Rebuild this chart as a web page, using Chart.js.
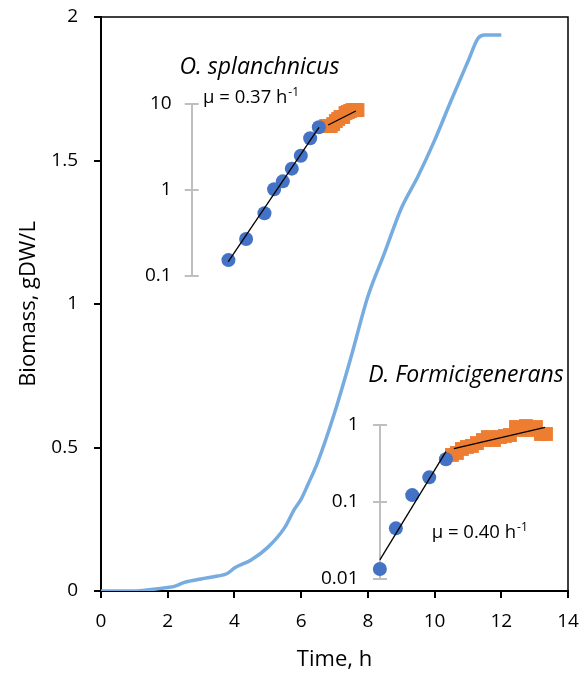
<!DOCTYPE html>
<html><head><meta charset="utf-8">
<script src="https://cdn.jsdelivr.net/npm/chart.js@4.4.0/dist/chart.umd.min.js"></script>
<style>
html,body{margin:0;padding:0;background:#fff;}
#wrap{position:relative;width:584px;height:676px;}
#wrap canvas{position:absolute;left:0;top:0;}
</style></head><body>
<div id="wrap">
<canvas id="main" width="584" height="676"></canvas>
<canvas id="inset1" width="584" height="676"></canvas>
<canvas id="inset2" width="584" height="676"></canvas>
</div>
<script>
// ---------- main growth curve ----------
const timeH   = [0,0.5,1,1.5,2,2.2,2.5,3,3.5,3.8,4,4.5,5,5.5,5.8,6,6.2,6.5,7,7.5,8,8.5,9,9.5,10,10.5,11,11.3,11.5,12];
const biomass = [0,0,0,0.005,0.012,0.016,0.03,0.042,0.052,0.062,0.08,0.108,0.152,0.22,0.285,0.32,0.37,0.45,0.62,0.817,1.026,1.178,1.333,1.444,1.57,1.71,1.845,1.925,1.937,1.937];
const xTicks = [0,2,4,6,8,10,12,14];
const xTickLabels = ['0','2','4','6','8','10','12','14'];
const yTicks = [0,0.5,1,1.5,2];
const yTickLabels = ['0','0.5','1','1.5','2'];

// ---------- inset 1: O. splanchnicus ----------
const osExpTime  = [3.82,4.35,4.90,5.19,5.45,5.72,5.99,6.27,6.53];
const osExpValue = [0.153,0.269,0.536,1.02,1.26,1.77,2.50,3.99,5.36];
const osLateTime  = [6.75,6.82,6.89,6.96,7.04,7.11,7.18,7.26,7.33,7.40,7.47,7.54,7.61,7.69];
const osLateValue = [5.55,5.55,5.55,5.85,6.34,6.69,7.06,7.06,7.86,8.07,8.29,8.51,8.51,8.51];
const osFit1Time = [3.815,6.535], osFit1Value = [0.147,5.36];
const osFit2Time = [6.81,7.64],   osFit2Value = [5.70,8.29];
const osTicks = [0.1,1,10];
const osTickLabels = ['0.1','1','10'];

// ---------- inset 2: D. Formicigenerans ----------
const dfExpTime  = [8.36,8.84,9.33,9.84,10.34];
const dfExpValue = [0.0135,0.0455,0.123,0.209,0.359];
const dfLateTime  = [10.52,10.67,10.82,10.97,11.12,11.27,11.45,11.60,11.78,11.96,12.11,12.26,12.44,12.59,12.74,12.89,13.04,13.19,13.34];
const dfLateValue = [0.408,0.433,0.488,0.518,0.534,0.583,0.638,0.698,0.638,0.698,0.720,0.741,0.942,0.861,0.97,0.861,0.942,0.764,0.764];
const dfFit1Time = [8.36,10.34],  dfFit1Value = [0.0177,0.450];
const dfFit2Time = [10.58,13.31], dfFit2Value = [0.492,0.933];
const dfTicks = [0.01,0.1,1];
const dfTickLabels = ['0.01','0.1','1'];

const FONT = "'Open Sans', sans-serif";
const pts = (xs, ys) => xs.map((x, i) => ({x: x, y: ys[i]}));
const noPad = s => { s.paddingTop = 0; s.paddingBottom = 0; s.paddingLeft = 0; s.paddingRight = 0; };

// frame (top + right border of plot area)
const framePlugin = {
  id: 'frame',
  afterDraw(chart) {
    const a = chart.chartArea, ctx = chart.ctx;
    ctx.save();
    ctx.strokeStyle = '#000'; ctx.lineWidth = 1.5;
    ctx.beginPath();
    ctx.moveTo(a.left, a.top); ctx.lineTo(a.right, a.top); ctx.lineTo(a.right, a.bottom);
    ctx.stroke();
    ctx.restore();
  }
};

new Chart(document.getElementById('main'), {
  type: 'line',
  data: { datasets: [{
    data: pts(timeH, biomass), borderColor: '#76acdf', borderWidth: 3.5,
    pointRadius: 0, cubicInterpolationMode: 'monotone', fill: false
  }]},
  options: {
    responsive: false, animation: false, devicePixelRatio: 1,
    layout: { padding: { top: 17, right: 16, left: 0, bottom: 0 } },
    plugins: { legend: { display: false }, tooltip: { enabled: false } },
    scales: {
      x: {
        type: 'linear', min: 0, max: 14,
        afterBuildTicks: s => { s.ticks = xTicks.map(v => ({ value: v })); },
        afterFit: s => { s.height = 85; noPad(s); },
        grid: { drawOnChartArea: false, tickLength: 7, color: '#000', lineWidth: 2 },
        border: { color: '#000', width: 2 },
        ticks: { color: '#000', font: { family: FONT, size: 19 }, padding: 12, maxRotation: 0, autoSkip: false,
                 callback: (v, i) => xTickLabels[i] },
        title: { display: true, text: 'Time, h', color: '#000', font: { family: FONT, size: 22 }, padding: { top: 0, bottom: 3 } }
      },
      y: {
        type: 'linear', min: 0, max: 2,
        afterBuildTicks: s => { s.ticks = yTicks.map(v => ({ value: v })); },
        afterFit: s => { s.width = 101; noPad(s); },
        grid: { drawOnChartArea: false, tickLength: 7, color: '#000', lineWidth: 2 },
        border: { color: '#000', width: 2 },
        ticks: { color: '#000', font: { family: FONT, size: 19 }, padding: 16, autoSkip: false,
                 callback: (v, i) => yTickLabels[i] },
        title: { display: true, text: 'Biomass, gDW/L', color: '#000', font: { family: FONT, size: 22 }, padding: { top: 16, bottom: 0 } }
      }
    }
  },
  plugins: [framePlugin]
});

// inner half of the inset tick marks + inset texts
const insetExtras = {
  id: 'insetExtras',
  beforeDatasetsDraw(chart) {
    const y = chart.scales.y, a = chart.chartArea, ctx = chart.ctx;
    ctx.save();
    ctx.strokeStyle = '#bfbfbf'; ctx.lineWidth = 2;
    y.ticks.forEach(t => {
      const py = y.getPixelForValue(t.value);
      ctx.beginPath(); ctx.moveTo(a.left, py); ctx.lineTo(a.left + 7, py); ctx.stroke();
    });
    ctx.restore();
  },
  afterDraw(chart, args, opts) {
    const ctx = chart.ctx;
    ctx.save();
    ctx.fillStyle = '#000';
    ctx.textBaseline = 'alphabetic';
    ctx.font = 'italic 23px ' + FONT;
    ctx.textAlign = 'center';
    ctx.fillText(opts.title, opts.titleX, opts.titleY);
    ctx.textAlign = 'left';
    ctx.font = '18.5px ' + FONT;
    const main = opts.mu;
    ctx.fillText(main, opts.muX, opts.muY);
    const w = ctx.measureText(main).width;
    ctx.font = '12px ' + FONT;
    ctx.fillText('-1', opts.muX + w + 1, opts.muY - 7);
    ctx.restore();
  }
};

const PX_PER_H = (568 - 101) / 14;
function makeInset(id, axisPx, topPx, bottomPx, labelRight, ticks, tickLabels, ymin, ymax, sets, text) {
  const yWidth = 70;
  return new Chart(document.getElementById(id), {
    type: 'scatter',
    data: { datasets: [
      { data: sets.fit1, showLine: true, borderColor: '#000', borderWidth: 1.3, pointRadius: 0, order: 0, clip: false },
      { data: sets.fit2, showLine: true, borderColor: '#000', borderWidth: 1.3, pointRadius: 0, order: 0, clip: false },
      { data: sets.exp, pointStyle: 'circle', pointRadius: 7, backgroundColor: '#4472c4', borderColor: '#4472c4', borderWidth: 0, order: 1, clip: false },
      { data: sets.late, pointStyle: 'rect', pointRadius: 9.8, backgroundColor: '#ed7d31', borderColor: '#ed7d31', borderWidth: 0, order: 2, clip: false }
    ]},
    options: {
      responsive: false, animation: false, devicePixelRatio: 1,
      layout: { padding: { left: axisPx - yWidth, right: 16, top: topPx, bottom: 676 - bottomPx } },
      plugins: { legend: { display: false }, tooltip: { enabled: false }, insetExtras: text },
      scales: {
        x: { type: 'linear', display: false, min: (axisPx - 101) / PX_PER_H, max: 14 },
        y: {
          type: 'logarithmic', min: ymin, max: ymax,
          afterBuildTicks: s => { s.ticks = ticks.map(v => ({ value: v })); },
          afterFit: s => { s.width = yWidth; noPad(s); },
          grid: { drawOnChartArea: false, tickLength: 7, color: '#bfbfbf', lineWidth: 2 },
          border: { color: '#bfbfbf', width: 2 },
          ticks: { color: '#000', font: { family: FONT, size: 19 }, padding: axisPx - 7 - labelRight, autoSkip: false,
                   callback: (v, i) => tickLabels[i] }
        }
      }
    },
    plugins: [insetExtras]
  });
}

makeInset('inset1', 191.7, 104, 276, 171.7, osTicks, osTickLabels, 0.1, 10, {
  fit1: pts(osFit1Time, osFit1Value), fit2: pts(osFit2Time, osFit2Value),
  exp: pts(osExpTime, osExpValue), late: pts(osLateTime, osLateValue)
}, { title: 'O. splanchnicus', titleX: 259.5, titleY: 74, mu: 'μ = 0.37 h', muX: 203, muY: 103 });

makeInset('inset2', 380, 425, 579, 358.5, dfTicks, dfTickLabels, 0.01, 1, {
  fit1: pts(dfFit1Time, dfFit1Value), fit2: pts(dfFit2Time, dfFit2Value),
  exp: pts(dfExpTime, dfExpValue), late: pts(dfLateTime, dfLateValue)
}, { title: 'D. Formicigenerans', titleX: 466, titleY: 382, mu: 'μ = 0.40 h', muX: 431.7, muY: 538 });
</script>
</body></html>
